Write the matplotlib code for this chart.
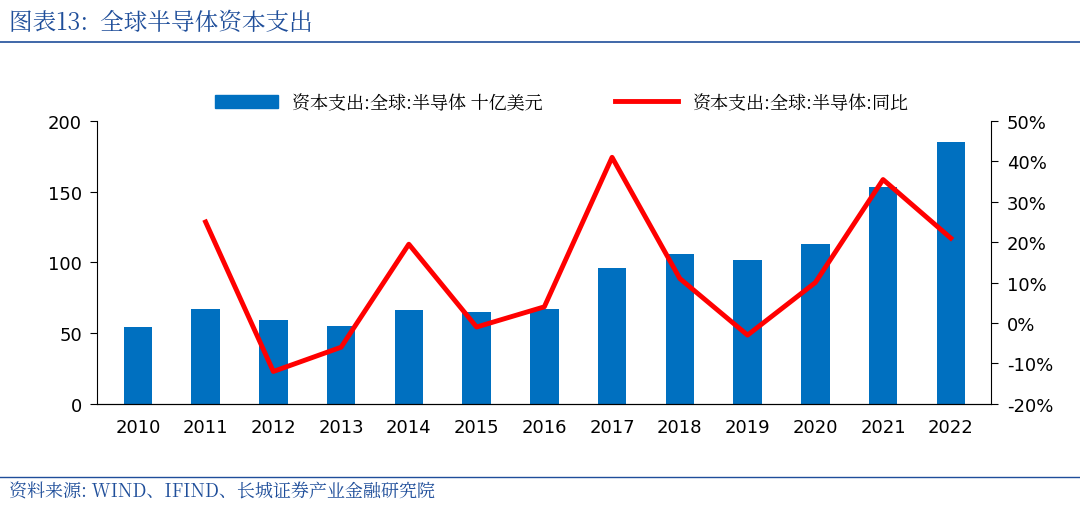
import numpy as np
import matplotlib
matplotlib.use("Agg")
import matplotlib.pyplot as plt
from matplotlib import font_manager as fm
from matplotlib.lines import Line2D

cjk = [f.name for f in fm.fontManager.ttflist if "CJK" in f.name]
cjk_name = "Noto Sans CJK SC" if "Noto Sans CJK SC" in cjk else (cjk[0] if cjk else "DejaVu Sans")
plt.rcParams["font.family"] = "sans-serif"
plt.rcParams["font.sans-serif"] = ["DejaVu Sans", cjk_name]

years = ["2010", "2011", "2012", "2013", "2014", "2015", "2016",
         "2017", "2018", "2019", "2020", "2021", "2022"]
capex = [54, 67, 59, 55, 66, 65, 67, 96, 106, 102, 113, 153, 185]
yoy = [25, -12, -6, 19.5, -1, 4, 41, 11, -3, 10, 35.5, 21]

fig = plt.figure(figsize=(10.8, 5.06), dpi=100)
ax = fig.add_axes([0.090, 0.200, 0.828, 0.559])
x = np.arange(len(years))
ax.bar(x, capex, width=0.42, color="#0070C0")
ax.set_ylim(0, 200)
ax.set_yticks(range(0, 201, 50))
ax.set_xlim(-0.6, len(years) - 0.4)
ax.set_xticks(x)
ax.set_xticklabels(years)
ax.tick_params(labelsize=13, direction="in", length=0, pad=10)
ax.tick_params(axis="y", length=5, direction="out", pad=6)
for s in ["top", "right"]:
    ax.spines[s].set_visible(False)

ax2 = ax.twinx()
ax2.plot(x[1:], yoy, color="#FF0000", lw=3.5)
ax2.set_ylim(-20, 50)
ax2.set_yticks(range(-20, 51, 10))
ax2.set_yticklabels([f"{v}%" for v in range(-20, 51, 10)])
ax2.tick_params(labelsize=13, length=5, pad=6)
ax2.spines["top"].set_visible(False)
ax2.spines["left"].set_visible(False)

cjk_fp = fm.FontProperties(family=cjk_name, size=13)
handles = [plt.Rectangle((0, 0), 1, 1, color="#0070C0"),
           Line2D([0], [0], color="#FF0000", lw=3.5)]
fig.legend(handles, ["资本支出:全球:半导体 十亿美元", "资本支出:全球:半导体:同比"],
           loc="center", bbox_to_anchor=(0.52, 0.795), ncol=2, frameon=False,
           prop=cjk_fp, handlelength=3.5, columnspacing=4)

fig.text(0.008, 0.955, "图表13:  全球半导体资本支出", fontsize=17, style="italic",
         color="#1F4E9A", va="center", family=cjk_name)
fig.add_artist(Line2D([0.0, 1.0], [0.915, 0.915], color="#1F4E9A", lw=1.2))
fig.add_artist(Line2D([0.0, 1.0], [0.055, 0.055], color="#1F4E9A", lw=1.0))
fig.text(0.008, 0.028, "资料来源: WIND、IFIND、长城证券产业金融研究院", fontsize=13,
         style="italic", color="#1F4E9A", va="center", family=cjk_name)

fig.savefig("out.png", dpi=100)
